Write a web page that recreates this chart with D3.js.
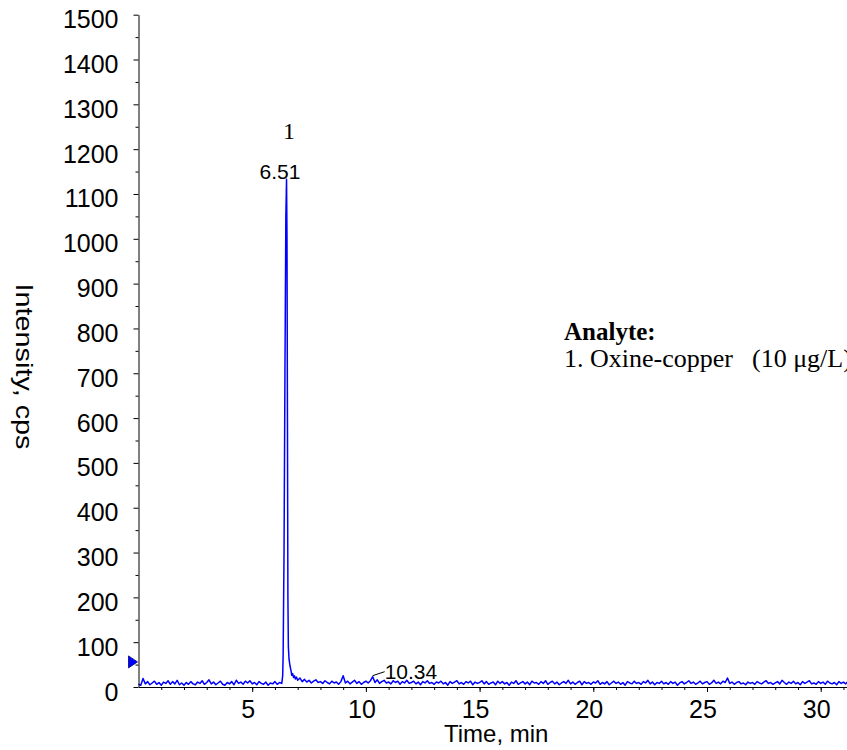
<!DOCTYPE html>
<html>
<head>
<meta charset="utf-8">
<script src="https://cdn.jsdelivr.net/npm/d3@7"></script>
<style>
  body { margin: 0; background: #ffffff; }
  svg { display: block; }
</style>
</head>
<body>
<svg id="chart" width="847" height="750"></svg>
<script>
// Retention time (min)
const times = [
  0.0, 0.1, 0.2, 0.3, 0.4, 0.5, 0.6, 0.7, 0.8, 0.9,
  1.0, 1.1, 1.2, 1.3, 1.4, 1.5, 1.6, 1.7, 1.8, 1.9,
  2.0, 2.1, 2.2, 2.3, 2.4, 2.5, 2.6, 2.7, 2.8, 2.9,
  3.0, 3.1, 3.2, 3.3, 3.4, 3.5, 3.6, 3.7, 3.8, 3.9,
  4.0, 4.1, 4.2, 4.3, 4.4, 4.5, 4.6, 4.7, 4.8, 4.9,
  5.0, 5.1, 5.2, 5.3, 5.4, 5.5, 5.6, 5.7, 5.8, 5.9,
  6.0, 6.1, 6.2,
  6.30, 6.34, 6.36, 6.40, 6.44, 6.48, 6.51, 6.53, 6.55, 6.57,
  6.59, 6.62, 6.66, 6.70, 6.74, 6.78, 6.82, 6.86, 6.90, 6.95,
  7.0, 7.1, 7.2, 7.3, 7.4, 7.5, 7.6, 7.7, 7.8, 7.9,
  8.0, 8.1, 8.2, 8.3, 8.4, 8.5, 8.6, 8.7, 8.8, 8.9,
  9.0, 9.1, 9.2, 9.3, 9.4, 9.5, 9.6, 9.7, 9.8, 9.9,
  10.0, 10.1, 10.2, 10.3, 10.4, 10.5, 10.6, 10.7, 10.8, 10.9,
  11.0, 11.1, 11.2, 11.3, 11.4, 11.5, 11.6, 11.7, 11.8, 11.9,
  12.0, 12.1, 12.2, 12.3, 12.4, 12.5, 12.6, 12.7, 12.8, 12.9,
  13.0, 13.1, 13.2, 13.3, 13.4, 13.5, 13.6, 13.7, 13.8, 13.9,
  14.0, 14.1, 14.2, 14.3, 14.4, 14.5, 14.6, 14.7, 14.8, 14.9,
  15.0, 15.1, 15.2, 15.3, 15.4, 15.5, 15.6, 15.7, 15.8, 15.9,
  16.0, 16.1, 16.2, 16.3, 16.4, 16.5, 16.6, 16.7, 16.8, 16.9,
  17.0, 17.1, 17.2, 17.3, 17.4, 17.5, 17.6, 17.7, 17.8, 17.9,
  18.0, 18.1, 18.2, 18.3, 18.4, 18.5, 18.6, 18.7, 18.8, 18.9,
  19.0, 19.1, 19.2, 19.3, 19.4, 19.5, 19.6, 19.7, 19.8, 19.9,
  20.0, 20.1, 20.2, 20.3, 20.4, 20.5, 20.6, 20.7, 20.8, 20.9,
  21.0, 21.1, 21.2, 21.3, 21.4, 21.5, 21.6, 21.7, 21.8, 21.9,
  22.0, 22.1, 22.2, 22.3, 22.4, 22.5, 22.6, 22.7, 22.8, 22.9,
  23.0, 23.1, 23.2, 23.3, 23.4, 23.5, 23.6, 23.7, 23.8, 23.9,
  24.0, 24.1, 24.2, 24.3, 24.4, 24.5, 24.6, 24.7, 24.8, 24.9,
  25.0, 25.1, 25.2, 25.3, 25.4, 25.5, 25.6, 25.7, 25.8, 25.9,
  26.0, 26.1, 26.2, 26.3, 26.4, 26.5, 26.6, 26.7, 26.8, 26.9,
  27.0, 27.1, 27.2, 27.3, 27.4, 27.5, 27.6, 27.7, 27.8, 27.9,
  28.0, 28.1, 28.2, 28.3, 28.4, 28.5, 28.6, 28.7, 28.8, 28.9,
  29.0, 29.1, 29.2, 29.3, 29.4, 29.5, 29.6, 29.7, 29.8, 29.9,
  30.0, 30.1, 30.2, 30.3, 30.4, 30.5, 30.6, 30.7, 30.8, 30.9,
  31.0, 31.1, 31.2
];

// Intensity (cps)
const intensity = [
  6, 4, 19, 7, 12, 5, 9, 13, 6, 10,
  4, 11, 8, 14, 6, 12, 7, 15, 5, 9,
  4, 10, 6, 12, 7, 5, 11, 8, 14, 6,
  10, 16, 7, 11, 5, 9, 13, 6, 4, 10,
  7, 12, 5, 15, 8, 11, 6, 13, 9, 14,
  7, 10, 5, 12, 8, 6, 11, 4, 9, 7,
  12, 6, 10,
  8, 25, 70, 300, 700, 1050, 1133, 1000, 600, 200,
  90, 62, 48, 38, 26, 30, 21, 25, 18, 22,
  15, 20, 12, 17, 11, 15, 9, 13, 16, 10,
  12, 8, 14, 10, 7, 13, 9, 11, 6, 12,
  25, 9, 13, 7, 11, 15, 8, 12, 6, 10,
  13, 9, 14, 23, 10, 16, 8, 12, 15, 9,
  11, 7, 14, 10, 13, 6, 12, 9, 15, 8,
  10, 13, 7, 11, 5, 12, 9, 14, 8, 10,
  6, 11, 9, 13, 7, 10, 4, 12, 8, 11,
  14, 7, 10, 6, 12, 9, 13, 5, 11, 8,
  10, 14, 7, 12, 6, 9, 11, 5, 13, 8,
  12, 7, 10, 4, 11, 8, 14, 6, 9, 12,
  7, 11, 5, 13, 9, 10, 6, 12, 8, 14,
  6, 10, 13, 7, 11, 5, 9, 12, 8, 15,
  7, 11, 6, 10, 13, 5, 12, 8, 10, 6,
  11, 9, 14, 6, 10, 7, 12, 5, 9, 13,
  8, 11, 6, 10, 4, 12, 9, 7, 13, 8,
  10, 6, 12, 9, 15, 7, 11, 5, 10, 8,
  13, 7, 10, 6, 12, 8, 11, 4, 9, 12,
  7, 10, 14, 8, 11, 6, 9, 13, 7, 10,
  12, 6, 9, 15, 8, 11, 7, 13, 10, 20,
  8, 11, 6, 10, 12, 7, 9, 5, 11, 8,
  10, 6, 12, 9, 7, 11, 14, 8, 10, 6,
  9, 12, 7, 15, 10, 6, 11, 8, 13, 7,
  10, 5, 12, 8, 11, 14, 7, 9, 6, 12,
  8, 11, 6, 13, 9, 7, 10, 5, 12, 8,
  11, 7, 13
];

// Peak labels (retention time, height)
const peakLabels = [
  { time: 6.51, height: 1133, text: "6.51", number: "1" },
  { time: 10.34, height: 23, text: "10.34", number: null }
];

const xTicks = [5, 10, 15, 20, 25, 30];
const xMinorTicks = d3.range(1, 32);
const yTicks = [0, 100, 200, 300, 400, 500, 600, 700, 800, 900, 1000, 1100, 1200, 1300, 1400, 1500];
const yMinorTicks = d3.range(50, 1500, 100);
const markerLevel = 56; // blue threshold arrow on the y axis

const legendTitle = "Analyte:";
const legendName = "1. Oxine-copper";
const legendConc = "(10 μg/L)";

const svg = d3.select("#chart");
const sans = "'Liberation Sans', Arial, sans-serif";
const serif = "'Liberation Serif', 'Times New Roman', serif";

// Scales
const xScale = d3.scaleLinear().domain([0, 31.2]).range([138.5, 848]);
const yScale = d3.scaleLinear().domain([0, 1500]).range([687, 14.7]);

// Trace
const line = d3.line()
  .x((d, i) => xScale(times[i]))
  .y(d => yScale(d));

svg.append("path")
  .datum(intensity)
  .attr("d", line)
  .attr("fill", "none")
  .attr("stroke", "#0000ff")
  .attr("stroke-width", 1.5)
  .attr("stroke-linejoin", "round");

// Y axis (major + minor)
const yAxis = svg.append("g")
  .attr("transform", `translate(${xScale(0)},0)`)
  .call(d3.axisLeft(yScale).tickValues(yTicks).tickFormat(d3.format("d"))
    .tickSize(5).tickSizeOuter(0).tickPadding(15));

svg.append("g")
  .attr("transform", `translate(${xScale(0)},0)`)
  .call(d3.axisLeft(yScale).tickValues(yMinorTicks).tickSize(3).tickSizeOuter(0).tickFormat(""))
  .select(".domain").remove();

yAxis.selectAll("text").attr("dy", "0.52em");

// X axis (major + minor)
const xAxis = svg.append("g")
  .attr("transform", `translate(0,${yScale(0)})`)
  .call(d3.axisBottom(xScale).tickValues(xTicks).tickFormat(d3.format("d"))
    .tickSize(5).tickSizeOuter(0).tickPadding(8));

svg.append("g")
  .attr("transform", `translate(0,${yScale(0)})`)
  .call(d3.axisBottom(xScale).tickValues(xMinorTicks).tickSize(3).tickSizeOuter(0).tickFormat(""))
  .select(".domain").remove();

xAxis.selectAll("text").attr("dx", "-4.5");

svg.selectAll(".tick text")
  .attr("font-family", sans)
  .attr("font-size", "25px")
  .attr("fill", "#000000");

svg.selectAll(".domain, .tick line")
  .attr("stroke", "#000000")
  .attr("stroke-width", 1);

// Threshold marker
const mx = xScale(0) - 1;
const my = yScale(markerLevel);
svg.append("path")
  .attr("d", `M${mx},${my} L${mx - 9},${my - 6} L${mx - 9},${my + 6} Z`)
  .attr("fill", "#0000ff")
  .attr("stroke", "#000080")
  .attr("stroke-width", 0.8);

// Peak annotations
peakLabels.forEach(p => {
  const px = xScale(p.time);
  const py = yScale(p.height);
  if (p.number) {
    svg.append("text")
      .attr("x", px - 6.5)
      .attr("y", py)
      .attr("text-anchor", "middle")
      .attr("font-family", sans)
      .attr("font-size", "21px")
      .text(p.text);
    svg.append("text")
      .attr("x", px + 2.5)
      .attr("y", py - 40)
      .attr("text-anchor", "middle")
      .attr("font-family", serif)
      .attr("font-size", "24px")
      .text(p.number);
  } else {
    // small peak label with leader line
    svg.append("line")
      .attr("x1", px - 1).attr("y1", py - 1)
      .attr("x2", px + 11).attr("y2", py - 5)
      .attr("stroke", "#000000")
      .attr("stroke-width", 1);
    svg.append("text")
      .attr("x", px + 11)
      .attr("y", py + 2)
      .attr("font-family", sans)
      .attr("font-size", "21px")
      .text(p.text);
  }
});

// Axis titles
svg.append("text")
  .attr("x", 444)
  .attr("y", 742)
  .attr("font-family", sans)
  .attr("font-size", "24px")
  .text("Time, min");

svg.append("text")
  .attr("transform", `translate(16,${(283 + 450) / 2}) rotate(90)`)
  .attr("text-anchor", "middle")
  .attr("font-family", sans)
  .attr("font-size", "24px")
  .attr("textLength", 166)
  .attr("lengthAdjust", "spacingAndGlyphs")
  .text("Intensity, cps");

// Analyte legend
svg.append("text")
  .attr("x", 564)
  .attr("y", 340)
  .attr("font-family", serif)
  .attr("font-weight", "bold")
  .attr("font-size", "25px")
  .text(legendTitle);

const item = svg.append("text")
  .attr("x", 564)
  .attr("y", 367)
  .attr("font-family", serif)
  .attr("font-size", "26px");
item.append("tspan").text(legendName);
item.append("tspan").attr("x", 752).text(legendConc);
</script>
</body>
</html>
